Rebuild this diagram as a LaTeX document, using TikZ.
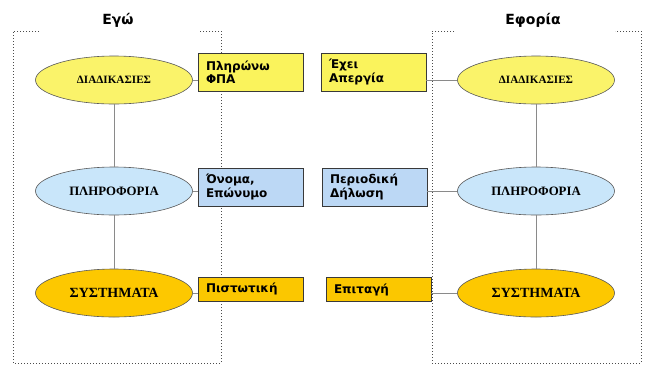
\documentclass[tikz,border=0pt]{standalone}
\usepackage{fontspec}
\setmainfont{DejaVu Sans}
\newfontfamily\grserif{Liberation Serif}
\usetikzlibrary{shapes.geometric}

\definecolor{procyellow}{HTML}{FAF36A}
\definecolor{infoblue}{HTML}{C9E6FA}
\definecolor{sysgold}{HTML}{FDC800}
\definecolor{tagyellow}{HTML}{FAF35C}
\definecolor{tagblue}{HTML}{BCD8F5}
\definecolor{taggold}{HTML}{FBC700}
\definecolor{linkgray}{HTML}{8A8A8A}

\begin{document}
\begin{tikzpicture}[x=1pt,y=-1pt,
  framepath/.style={draw=gray!60!black, dotted, line width=1pt},
  oval/.style={ellipse, draw=gray!70!black, line width=0.6pt,
    minimum width=157pt, minimum height=48pt, inner sep=0pt},
  tag/.style={rectangle, draw=gray!45!black, line width=0.7pt,
    minimum width=105pt, inner xsep=8pt, inner ysep=0pt,
    text width=89pt, align=left, font=\fontsize{12}{13.5}\selectfont\bfseries},
  link/.style={draw=linkgray, line width=0.9pt},
  heading/.style={font=\fontsize{14}{16}\selectfont\bfseries},
  proctext/.style={font=\grserif\bfseries\fontsize{11.2}{12}\selectfont},
  infotext/.style={font=\grserif\bfseries\fontsize{12.8}{14}\selectfont},
  systext/.style={font=\grserif\bfseries\fontsize{14}{16}\selectfont}]

\useasboundingbox (0,0) rectangle (652,368);

% dotted frames, open at the top for the headings
\draw[framepath] (39,31) -- (13,31) -- (13,363) -- (221,363) -- (221,31) -- (199,31);
\draw[framepath] (454,31) -- (432,31) -- (432,363) -- (641,363) -- (641,31) -- (615,31);

\node[heading] (ego) at (118,20) {Εγώ};
\node[heading] (eforia) at (533,20) {Εφορία};

% left column
\node[oval, fill=procyellow, proctext] (lproc) at (114,80) {ΔΙΑΔΙΚΑΣΙΕΣ};
\node[oval, fill=infoblue, infotext] (linfo) at (114,191) {ΠΛΗΡΟΦΟΡΙΑ};
\node[oval, fill=sysgold, systext] (lsys) at (114,293) {ΣΥΣΤΗΜΑΤΑ};

% right column
\node[oval, fill=procyellow, proctext] (rproc) at (536,80) {ΔΙΑΔΙΚΑΣΙΕΣ};
\node[oval, fill=infoblue, infotext] (rinfo) at (536,191) {ΠΛΗΡΟΦΟΡΙΑ};
\node[oval, fill=sysgold, systext] (rsys) at (536,293) {ΣΥΣΤΗΜΑΤΑ};

% tags
\node[tag, fill=tagyellow, minimum height=38pt] (pay) at (250.5,72) {Πληρώνω\\ΦΠΑ};
\node[tag, fill=tagyellow, minimum height=38pt] (strike) at (373.5,72) {Έχει\\Απεργία};
\node[tag, fill=tagblue, minimum height=38pt] (name) at (250.5,187) {Όνομα,\\Επώνυμο};
\node[tag, fill=tagblue, minimum height=38pt] (decl) at (374.5,187) {Περιοδική\\Δήλωση};
\node[tag, fill=taggold, minimum height=24pt] (credit) at (250.5,289) {Πιστωτική};
\node[tag, fill=taggold, minimum height=24pt] (cheque) at (378.5,289.5) {Επιταγή};

% vertical links inside each column
\draw[link] (lproc) -- (linfo);
\draw[link] (linfo) -- (lsys);
\draw[link] (rproc) -- (rinfo);
\draw[link] (rinfo) -- (rsys);

% links from ovals to tags
\draw[link] (lproc.east) -- (lproc.east -| pay.west);
\draw[link] (linfo.east) -- (linfo.east -| name.west);
\draw[link] (lsys.east) -- (lsys.east -| credit.west);
\draw[link] (rproc.west) -- (rproc.west -| strike.east);
\draw[link] (rinfo.west) -- (rinfo.west -| decl.east);
\draw[link] (rsys.west) -- (rsys.west -| cheque.east);

\end{tikzpicture}
\end{document}
